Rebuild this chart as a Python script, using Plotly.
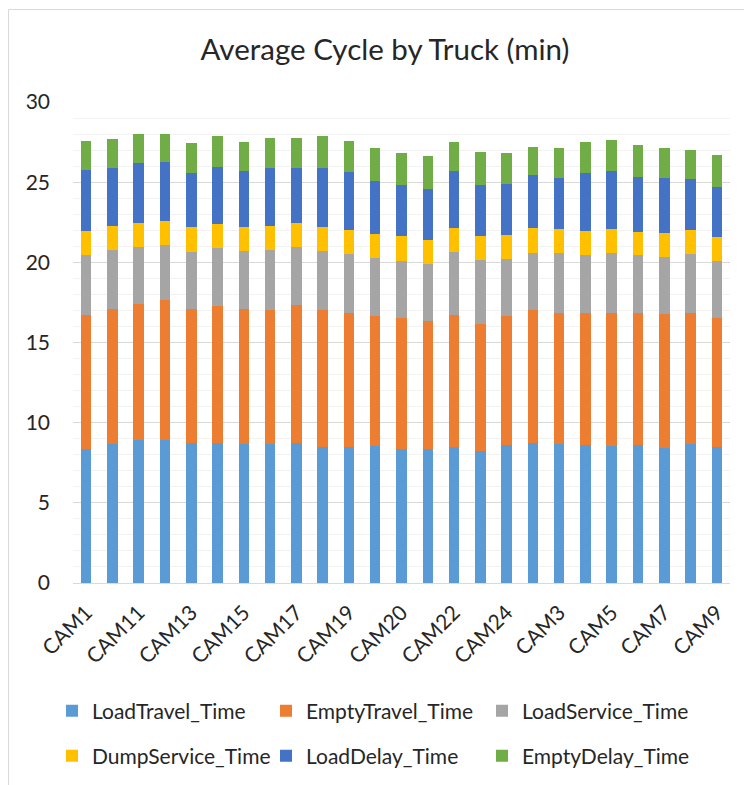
import plotly.graph_objects as go

trucks = ["CAM1", "CAM10", "CAM11", "CAM12", "CAM13", "CAM14", "CAM15", "CAM16", "CAM17",
          "CAM18", "CAM19", "CAM2", "CAM20", "CAM21", "CAM22", "CAM23", "CAM24", "CAM25",
          "CAM3", "CAM4", "CAM5", "CAM6", "CAM7", "CAM8", "CAM9"]

load_travel = [8.38, 8.67, 8.90, 8.90, 8.71, 8.75, 8.67, 8.65, 8.73, 8.46, 8.46, 8.57, 8.34,
               8.34, 8.46, 8.22, 8.59, 8.71, 8.65, 8.59, 8.55, 8.59, 8.44, 8.67, 8.50]
empty_travel = [8.36, 8.40, 8.49, 8.75, 8.36, 8.51, 8.40, 8.40, 8.59, 8.59, 8.36, 8.07, 8.21,
                7.98, 8.28, 7.96, 8.05, 8.30, 8.17, 8.23, 8.31, 8.23, 8.34, 8.19, 8.01]
load_service = [3.74, 3.68, 3.59, 3.45, 3.60, 3.62, 3.62, 3.74, 3.62, 3.64, 3.72, 3.62, 3.56,
                3.58, 3.91, 3.99, 3.59, 3.60, 3.77, 3.62, 3.73, 3.62, 3.58, 3.65, 3.60]
dump_service = [1.50, 1.54, 1.50, 1.50, 1.52, 1.52, 1.54, 1.50, 1.52, 1.54, 1.48, 1.53, 1.54,
                1.48, 1.50, 1.50, 1.50, 1.52, 1.52, 1.50, 1.52, 1.48, 1.47, 1.49, 1.49]
load_delay = [3.76, 3.62, 3.74, 3.66, 3.41, 3.57, 3.47, 3.58, 3.41, 3.68, 3.64, 3.31, 3.20,
              3.22, 3.57, 3.16, 3.18, 3.30, 3.18, 3.66, 3.61, 3.43, 3.46, 3.18, 3.10]
empty_delay = [1.85, 1.81, 1.77, 1.77, 1.87, 1.90, 1.81, 1.91, 1.89, 1.96, 1.91, 2.04, 1.99,
               2.06, 1.77, 2.04, 1.89, 1.79, 1.83, 1.91, 1.90, 1.99, 1.85, 1.85, 1.98]

series_names = ["LoadTravel_Time", "EmptyTravel_Time", "LoadService_Time",
                "DumpService_Time", "LoadDelay_Time", "EmptyDelay_Time"]
series_values = [load_travel, empty_travel, load_service, dump_service, load_delay, empty_delay]
colors = ["#5B9BD5", "#ED7D31", "#A5A5A5", "#FFC000", "#4472C4", "#70AD47"]
y_ticks = [0, 5, 10, 15, 20, 25, 30]

FONT = "Lato, 'Open Sans', sans-serif"
W, H = 752, 785
ML, MT, MR, MB = 65, 94, 30, 210
PW, PH = W - ML - MR, H - MT - MB

# legend slots: (legend id, left px, centre y px) in figure coordinates
legend_ids = ["legend", "legend2", "legend3", "legend4", "legend5", "legend6"]
legend_pos = [(44, 703), (258, 703), (474, 703), (44, 748), (258, 748), (474, 748)]

fig = go.Figure()
for name, vals, col, lid in zip(series_names, series_values, colors, legend_ids):
    fig.add_trace(go.Bar(x=trucks, y=vals, name=name, marker_color=col,
                         marker_line_width=0, legend=lid, showlegend=True))

layout_legends = {}
for lid, (lx, ly) in zip(legend_ids, legend_pos):
    layout_legends[lid] = dict(
        xref="container", yref="container", x=lx / W, y=(H - ly) / H,
        xanchor="left", yanchor="middle", orientation="h",
        font=dict(family=FONT, size=21, color="#262626"),
        bgcolor="rgba(0,0,0,0)", borderwidth=0,
    )

fig.update_layout(
    width=W, height=H, showlegend=True,
    margin=dict(l=ML, r=MR, t=MT, b=MB, autoexpand=False),
    paper_bgcolor="white", plot_bgcolor="white",
    barmode="stack", bargap=0.6,
    title=dict(text="Average Cycle by Truck (min)", x=377 / W, xref="container",
               xanchor="center", y=1 - 42 / H, yanchor="middle",
               font=dict(family=FONT, size=29.5, color="#262626")),
    xaxis=dict(tickvals=trucks[::2], ticktext=trucks[::2], tickangle=-45,
               tickfont=dict(family=FONT, size=21, color="#262626"),
               showgrid=False, showline=True, linecolor="#d9d9d9", linewidth=1,
               ticks="", ticklabelstandoff=8, automargin=False),
    yaxis=dict(range=[0, 30], tickvals=y_ticks,
               tickfont=dict(family=FONT, size=21, color="#262626"),
               showgrid=True, gridcolor="#d9d9d9", gridwidth=1,
               minor=dict(dtick=1, showgrid=True, gridcolor="#f2f2f2", gridwidth=1),
               zeroline=False, showline=False, ticks="", ticklabelstandoff=22,
               automargin=False),
    shapes=[dict(type="rect", xref="paper", yref="paper",
                 x0=(0.5 - ML) / PW, x1=(W + 40 - ML) / PW,
                 y0=(PH - (H + 40 - MT)) / PH, y1=(PH + MT - 1.5) / PH,
                 line=dict(color="#d9d9d9", width=1), fillcolor="rgba(0,0,0,0)",
                 layer="below")],
    **layout_legends,
)

fig.write_html("out.html")
